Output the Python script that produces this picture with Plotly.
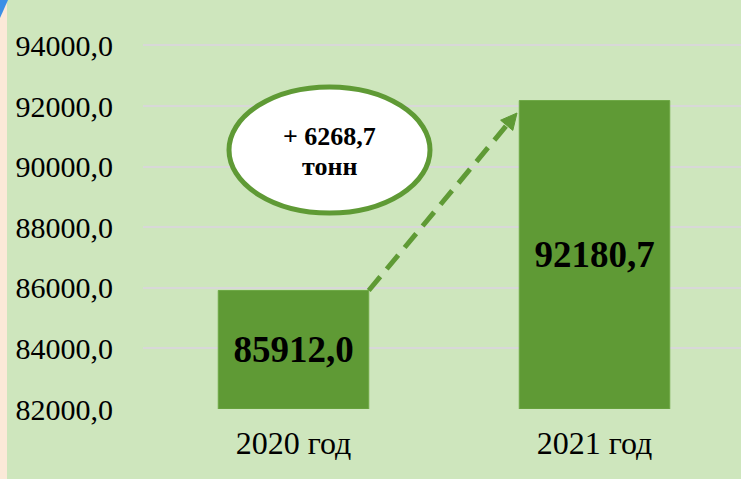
import plotly.graph_objects as go

# ---- data ----
categories = ["2020 год", "2021 год"]
values = [85912.0, 92180.7]
bar_labels = ["85912,0", "92180,7"]
tick_values = [82000, 84000, 86000, 88000, 90000, 92000, 94000]
tick_labels = ["82000,0", "84000,0", "86000,0", "88000,0", "90000,0", "92000,0", "94000,0"]
axis_base = 82000

diff = values[1] - values[0]
diff_text = "+ " + f"{diff:.1f}".replace(".", ",")

# ---- layout geometry ----
FIG_W, FIG_H = 741, 479
M_L, M_T, M_B = 143, 0, 70
PLOT_W = FIG_W - M_L
PLOT_H = FIG_H - M_T - M_B
X_RANGE = [-0.5, -0.5 + PLOT_W / 301.0]
Y_RANGE = [82000, 95500]
BAR_W = 0.5

def px2x(px):
    return X_RANGE[0] + (px - M_L) / PLOT_W * (X_RANGE[1] - X_RANGE[0])

def py2y(py):
    return Y_RANGE[1] - (py - M_T) / PLOT_H * (Y_RANGE[1] - Y_RANGE[0])

GREEN = "#5f9a35"
BG = "#cee6bd"
FONT = "Liberation Serif, Times New Roman, serif"

fig = go.Figure()
fig.add_trace(go.Bar(
    x=categories,
    y=[v - axis_base for v in values],
    base=[axis_base] * len(values),
    width=BAR_W,
    marker=dict(color=GREEN, line=dict(color="#6ea845", width=1)),
    text=[f"<b>{t}</b>" for t in bar_labels],
    textposition="inside",
    insidetextanchor="middle",
    textangle=0,
    textfont=dict(family=FONT, size=37, color="black"),
    hoverinfo="skip",
))

shapes = []
# left beige strip
shapes.append(dict(type="rect", xref="paper", yref="paper",
                   x0=-M_L / PLOT_W, x1=(7 - M_L) / PLOT_W, y0=-M_B / PLOT_H, y1=1,
                   fillcolor="#fbe9d8", line=dict(width=0), layer="above"))
# blue corner decoration
shapes.append(dict(type="path", xref="paper", yref="paper",
                   path=f"M {-M_L / PLOT_W},1 L {(8 - M_L) / PLOT_W},1 L {-M_L / PLOT_W},{1 - 18 / PLOT_H} Z",
                   fillcolor="#3b8fe6", line=dict(width=0), layer="above"))

# dashed arrow line from bar 1 corner towards bar 2
x_start = 0 + BAR_W / 2
y_start = values[0]
tip_x, tip_y = px2x(517), py2y(113)
end_x, end_y = px2x(506.7), py2y(125.3)
shapes.append(dict(type="line", xref="x", yref="y",
                   x0=x_start, y0=y_start, x1=end_x, y1=end_y,
                   line=dict(color=GREEN, width=5, dash="18px,10px"), layer="above"))
# arrowhead
shapes.append(dict(type="path", xref="x", yref="y", xsizemode="pixel", ysizemode="pixel",
                   xanchor=tip_x, yanchor=tip_y,
                   path="M 0,0 L -16.4,-7.2 L -4.2,-17.4 Z",
                   fillcolor=GREEN, line=dict(color=GREEN, width=1), layer="above"))
# ellipse callout
shapes.append(dict(type="circle", xref="x", yref="y",
                   x0=px2x(229), x1=px2x(430), y0=py2y(213), y1=py2y(87),
                   fillcolor="white", line=dict(color=GREEN, width=5), layer="above"))

fig.update_layout(shapes=shapes)

cx = px2x(329.5)
fig.add_annotation(x=cx, y=py2y(136), xref="x", yref="y", text=f"<b>{diff_text}</b>",
                   showarrow=False, font=dict(family=FONT, size=26, color="black"),
                   xanchor="center", yanchor="middle")
fig.add_annotation(x=cx, y=py2y(166), xref="x", yref="y", text="<b>тонн</b>",
                   showarrow=False, font=dict(family=FONT, size=26, color="black"),
                   xanchor="center", yanchor="middle")

fig.update_layout(
    width=FIG_W, height=FIG_H,
    margin=dict(l=M_L, r=0, t=M_T, b=M_B, pad=0),
    paper_bgcolor=BG, plot_bgcolor=BG,
    showlegend=False,
    font=dict(family=FONT, color="black"),
    bargap=0.5,
)
fig.update_xaxes(
    type="category", range=X_RANGE, showgrid=False, zeroline=False, showline=False,
    ticks="", tickfont=dict(family=FONT, size=32, color="black"),
    ticklabelstandoff=12,
)
fig.update_yaxes(
    range=Y_RANGE, tickvals=tick_values, ticktext=tick_labels,
    showgrid=True, gridcolor="#d8d8d8", gridwidth=2, zeroline=False, showline=False,
    ticks="", tickfont=dict(family=FONT, size=30, color="black"),
    ticklabelstandoff=29,
)

fig.write_html(
    "out.html",
    config={"displayModeBar": False},
    post_script="document.body.style.margin='0';document.body.style.padding='0';document.body.style.overflow='hidden';",
)
